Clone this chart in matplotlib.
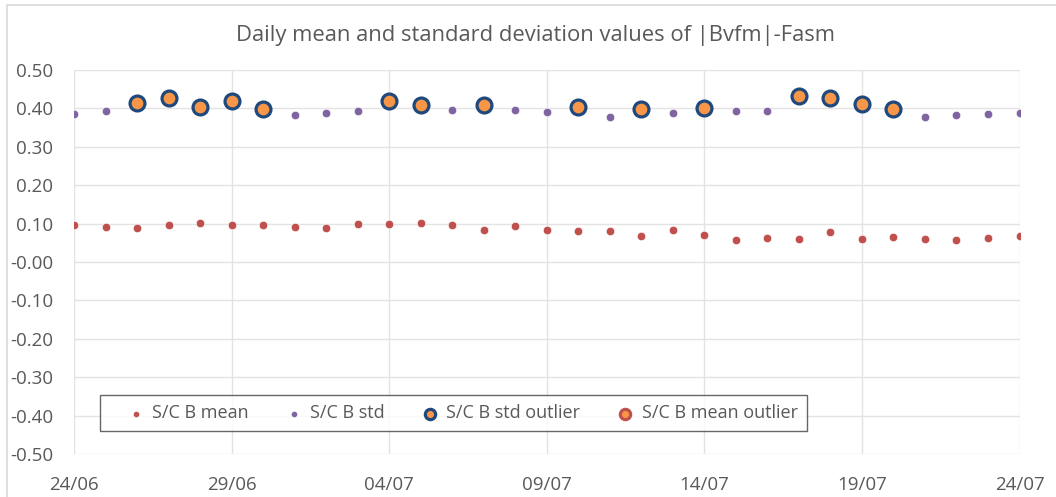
import numpy as np
import matplotlib.pyplot as plt
import matplotlib.dates as mdates
from matplotlib.patches import Rectangle
import datetime as dt

plt.rcParams['font.family'] = ['Open Sans', 'DejaVu Sans']

# Daily values, 24/06 .. 24/07
start = dt.date(2021, 6, 24)
days = [start + dt.timedelta(days=i) for i in range(31)]

mean_b = [0.096, 0.091, 0.089, 0.096, 0.102, 0.096, 0.097, 0.091, 0.089, 0.100,
          0.099, 0.102, 0.096, 0.083, 0.093, 0.083, 0.081, 0.081, 0.068, 0.084,
          0.071, 0.058, 0.063, 0.061, 0.078, 0.061, 0.066, 0.061, 0.058, 0.063,
          0.068]
std_b = [0.385, 0.394, 0.415, 0.426, 0.404, 0.419, 0.399, 0.382, 0.389, 0.393,
         0.420, 0.409, 0.397, 0.409, 0.397, 0.391, 0.404, 0.378, 0.399, 0.389,
         0.402, 0.394, 0.393, 0.431, 0.428, 0.412, 0.398, 0.378, 0.382, 0.385,
         0.389]
std_outlier_idx = [2, 3, 4, 5, 6, 10, 11, 13, 16, 18, 20, 23, 24, 25, 26]

std_out_days = [days[i] for i in std_outlier_idx]
std_out_vals = [std_b[i] for i in std_outlier_idx]

fig = plt.figure(figsize=(10.56, 4.97), dpi=100)
ax = fig.add_axes([74 / 1056, 1 - 454 / 497, (1019.5 - 74) / 1056, (454 - 70) / 497])

# chart area border
fig.patches.append(Rectangle((7 / 1056, -0.1), 1.2, 1 - 5 / 497 + 0.1, transform=fig.transFigure,
                             fill=False, edgecolor='#d9d9d9', lw=1.2))

ax.scatter(days, mean_b, s=36, color='#c0504d', edgecolors='white', linewidths=0.4,
           label='S/C B mean', zorder=3)
ax.scatter(days, std_b, s=36, color='#8064a2', edgecolors='white', linewidths=0.4,
           label='S/C B std', zorder=3)
ax.scatter(std_out_days, std_out_vals, s=115, color='#f79646', edgecolors='#1f497d',
           linewidths=2.3, label='S/C B std outlier', zorder=4)
ax.scatter([], [], s=115, color='#f79646', edgecolors='#c0504d', linewidths=2.3,
           label='S/C B mean outlier')

ax.set_ylim(-0.5, 0.5)
ax.set_yticks(np.arange(-0.5, 0.51, 0.1))
ax.yaxis.set_major_formatter(plt.FuncFormatter(lambda v, p: f'{v:.2f}'))
ax.set_xlim(days[0], days[-1])
ax.set_xticks([days[i] for i in range(0, 31, 5)])
ax.xaxis.set_major_formatter(mdates.DateFormatter('%d/%m'))

ax.grid(True, color='#e3e3e3', lw=1)
ax.set_axisbelow(True)
for s in ax.spines.values():
    s.set_visible(False)
ax.tick_params(length=0, labelsize=13.5, labelcolor='#595959')
ax.tick_params(axis='y', pad=15)
ax.tick_params(axis='x', pad=16)

fig.text(536 / 1056, 1 - 35 / 497, 'Daily mean and standard deviation values of |Bvfm|-Fasm',
         ha='center', va='center', fontsize=15.8, color='#595959')

leg = ax.legend(loc='center', bbox_to_anchor=(0.401, 0.106), ncol=4, frameon=True,
                fancybox=False, edgecolor='#404040', fontsize=13,
                handletextpad=-0.6, columnspacing=1.0, borderaxespad=0, borderpad=0.5,
                handlelength=3.0)
leg.get_frame().set_linewidth(1.0)
for t in leg.get_texts():
    t.set_color('#595959')
sizes = [20, 20, 55, 55]
for h, s in zip(leg.legend_handles, sizes):
    h.set_sizes([s])

fig.savefig('out.png', dpi=100)
